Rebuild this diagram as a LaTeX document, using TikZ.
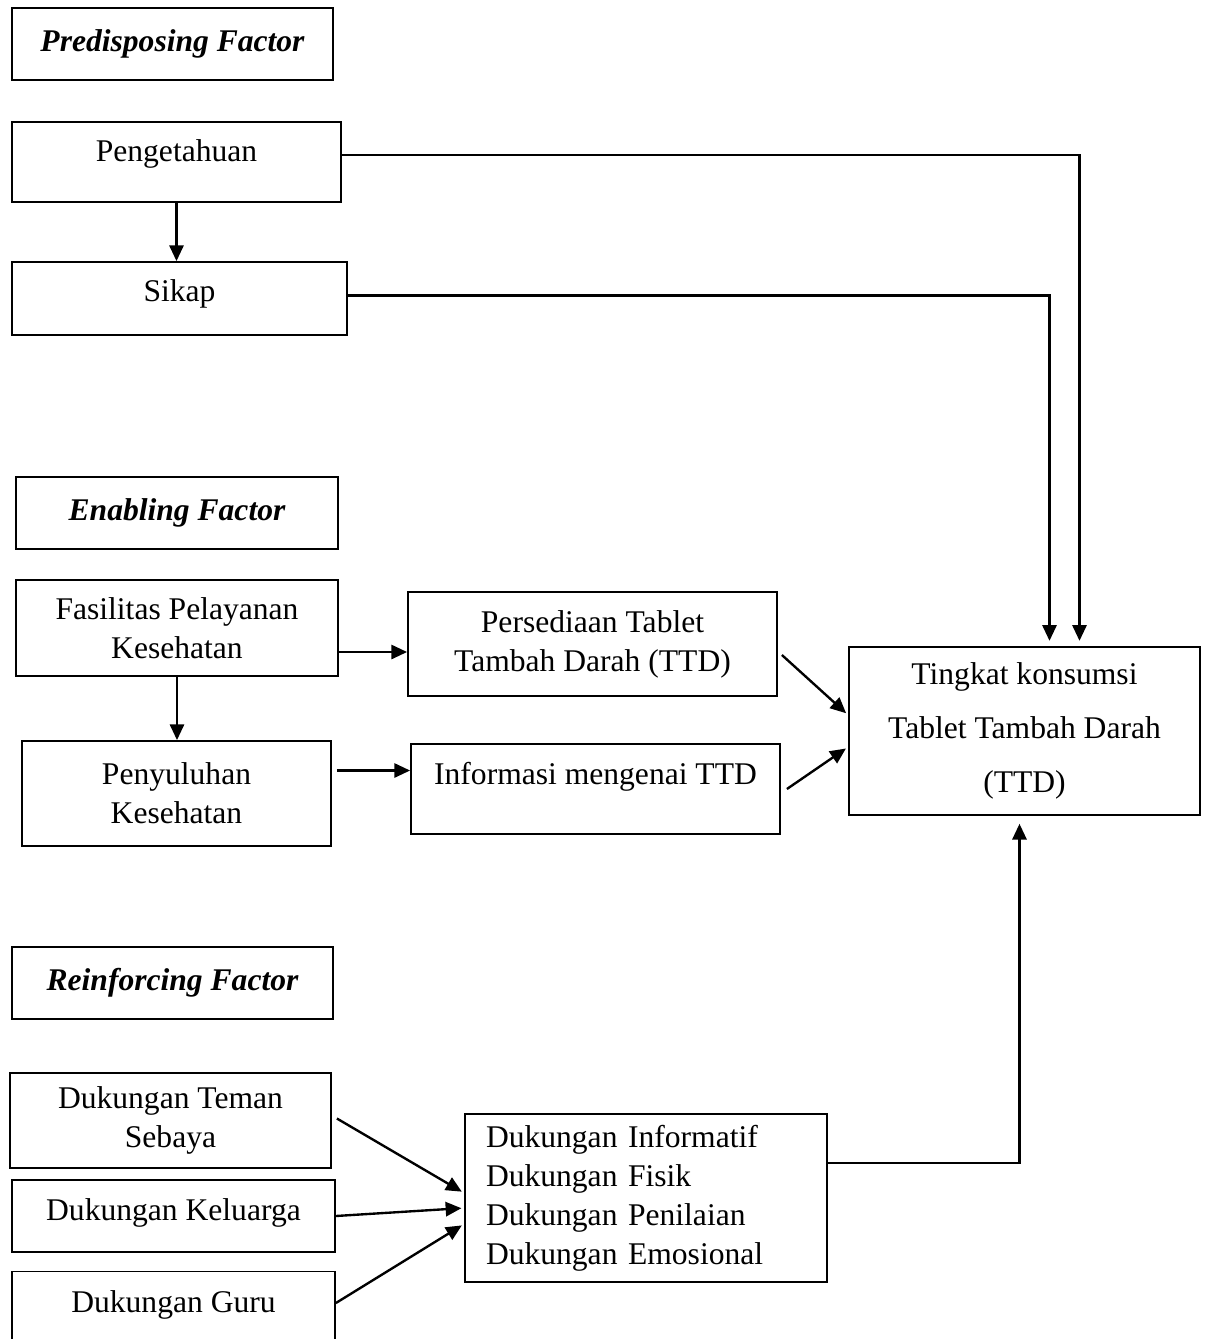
\documentclass[tikz,border=0pt]{standalone}
\usepackage{fontspec}
\setmainfont{Liberation Serif}
\usepackage{tikz}
\usetikzlibrary{arrows.meta,positioning}
\newcommand{\px}{0.38pt}
\tikzset{
  box/.style={draw,line width=0.7pt,align=center,inner sep=0pt,
    font=\fontsize{12}{14.8}\selectfont},
  title/.style={box,font=\fontsize{12}{14.8}\selectfont\bfseries\itshape},
  link/.style={line width=0.9pt},
  every node/.style={font=\fontsize{12}{14.8}\selectfont}
}
\tikzstyle{arrow} = [link,-{Triangle[length=6pt,width=5.4pt]}]

\begin{document}
\begin{tikzpicture}[x=0.38pt,y=-0.38pt]
  \useasboundingbox (0,0) rectangle (1215,1339);
  % predisposing
  \node[title,minimum width=321*\px,minimum height=72*\px] (pre) at (172.5,44) {Predisposing Factor};
  \node[box,minimum width=329*\px,minimum height=80*\px,text depth=9pt] (peng) at (176.5,162) {Pengetahuan};
  \node[box,minimum width=335*\px,minimum height=73*\px,text depth=6pt] (sik) at (179.5,298.5) {Sikap};
  % enabling
  \node[title,minimum width=322*\px,minimum height=72*\px] (ena) at (177,513) {Enabling Factor};
  \node[box,minimum width=322*\px,minimum height=96*\px] (fas) at (177,628) {Fasilitas Pelayanan\\Kesehatan};
  \node[box,minimum width=369*\px,minimum height=104*\px] (per) at (592.5,644) {Persediaan Tablet\\Tambah Darah (TTD)};
  \node[box,minimum width=309*\px,minimum height=105*\px] (pen) at (176.5,793.5) {Penyuluhan\\Kesehatan};
  \node[box,minimum width=369*\px,minimum height=90*\px,text depth=12pt] (inf) at (595.5,789) {Informasi mengenai TTD};
  \node[box,minimum width=351*\px,minimum height=168*\px] (ting) at (1024.5,731)
    {Tingkat konsumsi\\[5.7pt]Tablet Tambah Darah\\[5.7pt](TTD)};
  % reinforcing
  \node[title,minimum width=321*\px,minimum height=72*\px] (rei) at (172.5,983) {Reinforcing Factor};
  \node[box,minimum width=321*\px,minimum height=95*\px] (tem) at (170.5,1120.5) {Dukungan Teman\\Sebaya};
  \node[box,minimum width=323*\px,minimum height=72*\px,text depth=5pt] (kel) at (173.5,1216) {Dukungan Keluarga};
  \node[box,minimum width=323*\px,minimum height=73*\px,text depth=5pt] (gur) at (173.5,1308) {Dukungan Guru};
  \node[box,align=left,text width=320*\px,inner xsep=21*\px,minimum height=168*\px] (duk) at (646,1198)
    {Dukungan Informatif\\Dukungan Fisik\\Dukungan Penilaian\\Dukungan Emosional};

  % connectors
  \draw[arrow,shorten >=2pt] ([yshift=7*\px]peng.east) -| ([xshift=55*\px]ting.north);
  \draw[arrow,shorten >=2pt] ([yshift=3*\px]sik.east) -| ([xshift=25*\px]ting.north);
  \draw[arrow] (peng.south) -- (peng.south |- sik.north);
  \draw[arrow] ([yshift=-24*\px]fas.east) -- ([yshift=-24*\px]fas.east -| per.west);
  \draw[arrow] (fas.south) -- (fas.south |- pen.north);
  \draw[arrow] ([xshift=5*\px,yshift=23*\px]pen.east) -- ([yshift=23*\px]pen.east -| inf.west);
  \draw[arrow,shorten >=1pt] ([xshift=4*\px,yshift=-11*\px]per.east) -- ([yshift=16*\px]ting.west);
  \draw[arrow,shorten >=1pt] ([xshift=6*\px]inf.east) -- ([yshift=-16*\px]ting.west);
  \draw[arrow,shorten >=3pt] ([yshift=35*\px]duk.east) -| ([xshift=-5*\px]ting.south);
  \draw[arrow,shorten >=1pt] ([xshift=5*\px,yshift=2*\px]tem.east) -- ([yshift=5*\px]duk.west);
  \draw[arrow,shorten >=1pt] (kel.east) -- ([yshift=-10*\px]duk.west);
  \draw[arrow,shorten >=1pt] ([yshift=5*\px]gur.east) -- ([yshift=-26*\px]duk.west);
\end{tikzpicture}
\end{document}
